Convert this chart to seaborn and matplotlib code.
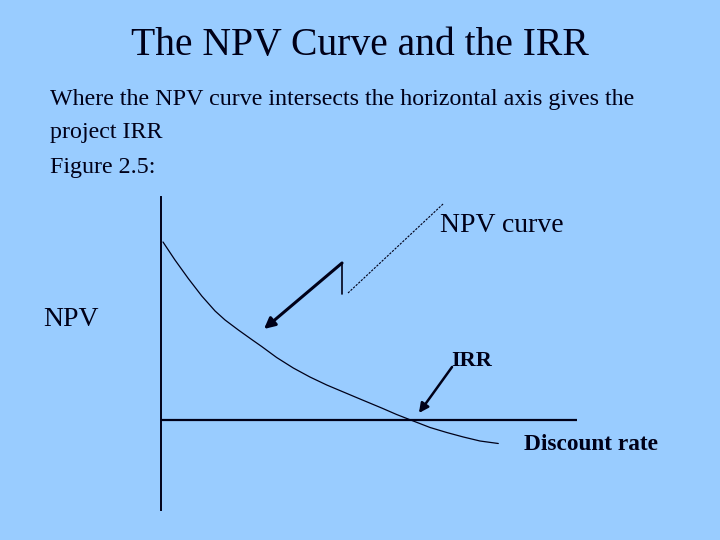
import numpy as np
import matplotlib
matplotlib.use("Agg")
import matplotlib.pyplot as plt
import seaborn as sns
import pandas as pd

# ===================== data =====================
rate = [0.12, 0.84, 1.64, 2.45, 3.25, 3.85, 4.65, 5.45, 6.05, 6.95, 7.95, 8.95,
        9.96, 10.96, 11.96, 13.26, 14.16, 15.16, 16.17, 17.17, 18.17, 19.17, 20.27]  # discount rate, %
npv = [178, 160, 141.5, 124, 109, 100, 90, 80.5, 73.5, 62.5, 52, 43,
       35, 28, 21, 12, 5.5, -1, -7.5, -12.5, -17, -21, -23.5]                       # NPV
irr = 15.1

title = "The NPV Curve and the IRR"
body = ["Where the NPV curve intersects the horizontal axis gives the",
        "project IRR",
        "Figure 2.5:"]

bg = "#99CCFF"
ink = "#000018"

sns.set_theme(style="white")
plt.rcParams['font.family'] = ['Liberation Serif', 'DejaVu Serif']

fig = plt.figure(figsize=(7.2, 5.4), dpi=100, facecolor=bg)
W, H = 720, 540

# axes box matches the slide's axis lines
ax = fig.add_axes([161 / W, 1 - 510 / H, (577 - 161) / W, (510 - 197) / H])
ax.set_facecolor(bg)
df = pd.DataFrame({"rate": rate, "npv": npv})
sns.lineplot(data=df, x="rate", y="npv", ax=ax, color=ink, lw=0.9,
             solid_joinstyle="round", solid_capstyle="round")
ax.axhline(0, color=ink, lw=1.6)
ax.set_xlim(0, 25)
ax.set_ylim(-90, 223)
for s in ["top", "right", "bottom"]:
    ax.spines[s].set_visible(False)
ax.spines["left"].set_color(ink)
ax.spines["left"].set_linewidth(1.4)
ax.set_xticks([])
ax.set_yticks([])
ax.set_xlabel("")
ax.set_ylabel("")

# title and bullet text
fig.text(360 / W, 1 - 46 / H, title, ha="center", va="center", fontsize=28.5, color=ink)
for i, line in enumerate(body):
    fig.text(50 / W, 1 - (99 + 34 * i) / H, line, ha="left", va="center",
             fontsize=17.3, color=ink)

# labels
fig.text(440 / W, 1 - 226 / H, "NPV curve", ha="left", va="center", fontsize=20, color=ink)
fig.text(43 / W, 1 - 320 / H, "NPV", ha="left", va="center", fontsize=20, color=ink)
fig.text(451 / W, 1 - 361 / H, "IRR", ha="left", va="center", fontsize=16,
         fontweight="bold", color=ink)
fig.text(524 / W, 1 - 445 / H, "Discount rate", ha="left", va="center", fontsize=16.8,
         fontweight="bold", color=ink)

# "NPV curve" callout: dashed leader, step, then bold arrow toward the curve
ax.plot([16.95, 11.24], [216, 127], color=ink, lw=0.8, ls=(0, (2, 1.2)), clip_on=False)
ax.plot([10.88, 10.88], [126, 157], color=ink, lw=1.2, clip_on=False)
ax.annotate("", xy=(6.19, 91), xytext=(10.88, 157),
            arrowprops=dict(arrowstyle="-|>", color=ink, lw=2.2, mutation_scale=16,
                            shrinkA=0, shrinkB=0))

# IRR arrow
ax.annotate("", xy=(irr + 0.4, 7), xytext=(17.49, 53),
            arrowprops=dict(arrowstyle="-|>", color=ink, lw=1.8, mutation_scale=14,
                            shrinkA=0, shrinkB=0))

plt.savefig("out.png", dpi=100, facecolor=bg)
